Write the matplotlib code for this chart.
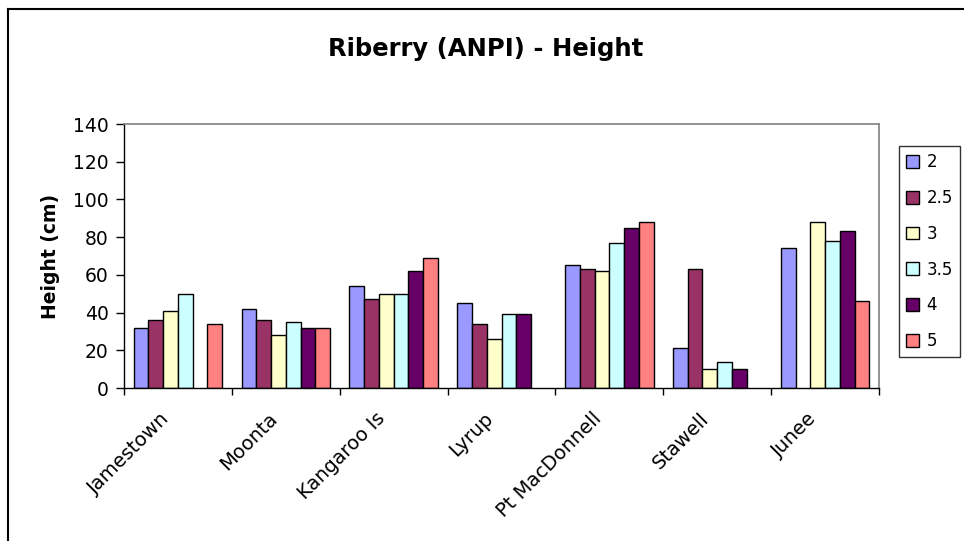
import numpy as np
from matplotlib import pyplot as plt
from matplotlib.lines import Line2D
from matplotlib.transforms import ScaledTranslation

plt.rcParams['font.family'] = ['DejaVu Sans']

sites = ['Jamestown', 'Moonta', 'Kangaroo Is', 'Lyrup', 'Pt MacDonnell', 'Stawell', 'Junee']
series_names = ['2', '2.5', '3', '3.5', '4', '5']
h_2 = [32, 42, 54, 45, 65, 21, 74]
h_2_5 = [36, 36, 47, 34, 63, 63, np.nan]
h_3 = [41, 28, 50, 26, 62, 10, 88]
h_3_5 = [50, 35, 50, 39, 77, 14, 78]
h_4 = [np.nan, 32, 62, 39, 85, 10, 83]
h_5 = [34, 32, 69, np.nan, 88, np.nan, 46]
colors = ['#9999FF', '#993366', '#FFFFCC', '#CCFFFF', '#660066', '#FF8080']

all_series = [h_2, h_2_5, h_3, h_3_5, h_4, h_5]

fig = plt.figure(figsize=(9.64, 5.41), dpi=100)
ax = fig.add_axes([124 / 964, 1 - 388 / 541, (879 - 124) / 964, (388 - 124) / 541])

x = np.arange(len(sites))
w = 0.1365
for i, (vals, name, col) in enumerate(zip(all_series, series_names, colors)):
    ax.bar(x + (i - 2.5) * w, vals, width=w, color=col, edgecolor='black',
           linewidth=1.0, label=name)

ax.set_xlim(-0.5, len(sites) - 0.5)
ax.set_ylim(0, 140)
ax.set_yticks(range(0, 141, 20))
ax.tick_params(axis='y', labelsize=13.5, length=6, width=1, direction='out', pad=5)

# category labels in the middle, tick marks between the categories
ax.set_xticks(x)
ax.set_xticklabels(sites, rotation=45, ha='right', va='center', rotation_mode='anchor',
                   fontsize=14)
ax.tick_params(axis='x', which='major', length=0, pad=10)
shift = ScaledTranslation(-8 / 72, -10 / 72, fig.dpi_scale_trans)
for lbl in ax.get_xticklabels():
    lbl.set_transform(lbl.get_transform() + shift)
ax.set_xticks(np.arange(-0.5, len(sites), 1), minor=True)
ax.tick_params(axis='x', which='minor', length=5, width=1, direction='out')

for side in ['top', 'right']:
    ax.spines[side].set_color('#808080')
    ax.spines[side].set_linewidth(1.2)
for side in ['left', 'bottom']:
    ax.spines[side].set_color('black')
    ax.spines[side].set_linewidth(1.0)

fig.text(486 / 964, 1 - 49 / 541, 'Riberry (ANPI) - Height', ha='center', va='center',
         fontsize=17.5, fontweight='bold')
fig.text(50 / 964, 1 - 256 / 541, 'Height (cm)', ha='center', va='center',
         rotation=90, fontsize=13.5, fontweight='bold')

leg = fig.legend(loc='upper left', bbox_to_anchor=(899 / 964, 1 - 146.5 / 541),
                 fontsize=12, frameon=True, fancybox=False, borderaxespad=0,
                 handlelength=0.8, handleheight=0.8, handletextpad=0.45,
                 labelspacing=1.07, borderpad=0.4)
leg.get_frame().set_edgecolor('black')
leg.get_frame().set_linewidth(1.0)

# outer chart border (runs off the right and bottom of the image)
fig.add_artist(Line2D([7.5 / 964, 7.5 / 964], [0, 1 - 8.5 / 541], color='black', lw=1.5,
                      transform=fig.transFigure))
fig.add_artist(Line2D([7.5 / 964, 1], [1 - 8.5 / 541, 1 - 8.5 / 541], color='black', lw=1.5,
                      transform=fig.transFigure))

fig.savefig('out.png', dpi=100)
